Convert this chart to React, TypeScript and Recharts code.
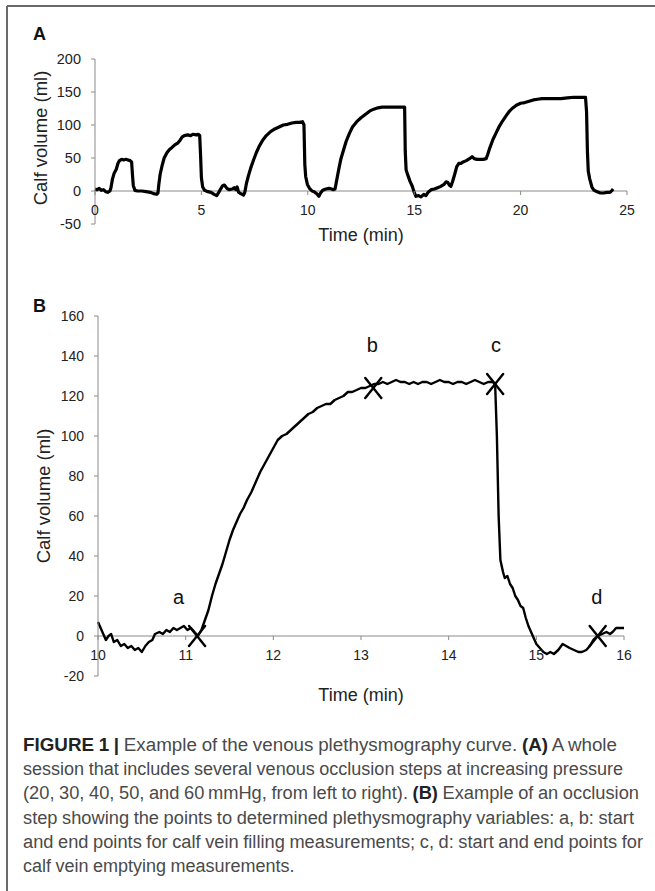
import React from "react";
import { ComposedChart, LineChart, Line, XAxis, YAxis, ReferenceLine, ReferenceDot } from "recharts";

// ---------- Panel A data: whole session ----------
const sessionTime = [
  0.0, 0.1, 0.2, 0.3, 0.4, 0.5, 0.6, 0.7, 0.75, 0.82, 0.9, 1.0, 1.08, 1.15, 1.25, 1.35, 1.45, 1.55, 1.65, 1.72,
  1.76, 1.8, 1.88, 2.0, 2.2, 2.4, 2.6, 2.75, 2.9, 2.96, 3.0, 3.06, 3.15, 3.25, 3.38, 3.5, 3.62, 3.75, 3.9, 4.0,
  4.1, 4.2, 4.35, 4.5, 4.6, 4.75, 4.85, 4.92, 4.96, 5.0, 5.06, 5.15, 5.3, 5.45, 5.6, 5.72, 5.8, 5.9, 6.0, 6.08,
  6.2, 6.3, 6.45, 6.55, 6.62, 6.68, 6.75, 6.85, 6.98, 7.04, 7.12, 7.2, 7.32, 7.45, 7.58, 7.72, 7.88, 8.05, 8.25, 8.45,
  8.65, 8.85, 9.05, 9.25, 9.45, 9.6, 9.75, 9.82, 9.86, 9.9, 9.98, 10.08, 10.2, 10.3, 10.42, 10.52, 10.6, 10.7, 10.85, 11.0,
  11.12, 11.2, 11.28, 11.35, 11.45, 11.55, 11.68, 11.8, 11.95, 12.1, 12.3, 12.5, 12.7, 12.9, 13.1, 13.3, 13.5, 13.8, 14.1, 14.4,
  14.55, 14.58, 14.62, 14.7, 14.8, 14.9, 15.0, 15.08, 15.2, 15.32, 15.45, 15.55, 15.65, 15.8, 15.95, 16.1, 16.25, 16.4, 16.5, 16.58,
  16.65, 16.72, 16.8, 16.9, 17.0, 17.1, 17.2, 17.3, 17.45, 17.6, 17.72, 17.82, 17.95, 18.1, 18.25, 18.38, 18.45, 18.55, 18.7, 18.85,
  19.0, 19.15, 19.3, 19.45, 19.6, 19.8, 20.0, 20.2, 20.4, 20.6, 20.8, 21.0, 21.3, 21.6, 21.9, 22.2, 22.5, 22.8, 23.05, 23.1,
  23.14, 23.18, 23.25, 23.35, 23.45, 23.6, 23.75, 23.9, 24.05, 24.2, 24.3, 24.35,
];
const sessionVolume = [
  3, 2, 4, 1, 2, -1, -2, 0, 5, 18, 27, 33, 42, 46, 48, 47, 48, 47, 46, 44,
  25, 8, 1, 0, 0, -1, -2, -4, -5, -3, 10, 25, 38, 50, 58, 63, 66, 70, 73, 77,
  82, 84, 85, 84, 86, 85, 86, 84, 55, 20, 6, 1, -1, -2, -5, -7, -3, 3, 8, 9,
  4, 2, 3, 5, 2, 6, -2, -4, -6, -2, 12, 22, 35, 47, 58, 68, 77, 84, 90, 94,
  97, 100, 101, 103, 104, 104, 105, 100, 40, 22, 10, 4, 0, -1, -4, -8, -3, 1, 3, 4,
  3, 2, 3, 15, 32, 48, 62, 75, 87, 97, 105, 111, 116, 121, 124, 126, 127, 127, 127, 127,
  127, 60, 32, 24, 15, 8, -2, -8, -7, -9, -5, -7, -2, 2, 3, 5, 7, 10, 14, 13,
  9, 7, 14, 25, 37, 42, 42, 44, 46, 49, 52, 49, 48, 48, 48, 49, 55, 65, 78, 88,
  98, 106, 113, 120, 125, 130, 133, 134, 136, 138, 139, 140, 140, 140, 140, 141, 142, 142, 142, 120,
  60, 30, 18, 6, 1, -1, -3, -3, -2, -2, 1, 3,
];
const sessionXTicks = [0, 5, 10, 15, 20, 25];
const sessionYTicks = [-50, 0, 50, 100, 150, 200];

// ---------- Panel B data: one occlusion step ----------
const stepTime = [
  10.0, 10.03, 10.06, 10.09, 10.12, 10.15, 10.18, 10.22, 10.26, 10.3, 10.34, 10.38, 10.42, 10.46, 10.5, 10.54, 10.58, 10.62, 10.65, 10.7,
  10.74, 10.78, 10.82, 10.86, 10.9, 10.94, 10.98, 11.02, 11.06, 11.1, 11.14, 11.18, 11.22, 11.26, 11.3, 11.34, 11.38, 11.42, 11.46, 11.5,
  11.54, 11.58, 11.62, 11.66, 11.7, 11.75, 11.8, 11.85, 11.9, 11.95, 12.0, 12.05, 12.1, 12.15, 12.2, 12.25, 12.3, 12.35, 12.4, 12.45,
  12.5, 12.55, 12.6, 12.65, 12.7, 12.75, 12.8, 12.85, 12.9, 12.95, 13.0, 13.05, 13.1, 13.15, 13.2, 13.25, 13.3, 13.35, 13.4, 13.45,
  13.5, 13.55, 13.6, 13.65, 13.7, 13.75, 13.8, 13.85, 13.9, 13.95, 14.0, 14.05, 14.1, 14.15, 14.2, 14.25, 14.3, 14.35, 14.4, 14.45,
  14.5, 14.53, 14.55, 14.57, 14.59, 14.62, 14.64, 14.67, 14.7, 14.73, 14.76, 14.79, 14.82, 14.85, 14.88, 14.91, 14.94, 14.97, 15.0, 15.04,
  15.08, 15.12, 15.16, 15.2, 15.25, 15.3, 15.34, 15.38, 15.43, 15.48, 15.52, 15.57, 15.61, 15.65, 15.7, 15.75, 15.8, 15.84, 15.87, 15.91,
  15.95, 16.0,
];
const stepVolume = [
  7, 4, 1, -2, 0, 1, -3, -2, -5, -4, -6, -5, -7, -6, -8, -5, -3, -2, 1, 2,
  1, 3, 2, 4, 3, 4, 5, 3, 4, 2, 0, 3, 8, 13, 20, 26, 31, 36, 42, 48,
  53, 57, 61, 64, 68, 72, 77, 82, 86, 90, 94, 98, 100, 101, 103, 105, 107, 109, 111, 112,
  114, 115, 116, 116, 118, 119, 120, 122, 122, 123, 124, 124, 125, 126, 126, 127, 126, 127, 128, 127,
  127, 126, 127, 126, 127, 127, 126, 127, 128, 127, 127, 126, 127, 127, 126, 127, 128, 127, 126, 127,
  127, 126, 100, 60, 38, 32, 29, 30, 26, 24, 20, 18, 15, 14, 9, 5, 2, -1, -4, -6,
  -8, -9, -8, -9, -7, -4, -5, -6, -7, -8, -8, -7, -5, -2, 0, 1, 2, 1, 2, 4,
  4, 4,
];
const stepXTicks = [10, 11, 12, 13, 14, 15, 16];
const stepYTicks = [-20, 0, 20, 40, 60, 80, 100, 120, 140, 160];

const markerTime = [11.13, 13.14, 14.53, 15.7];
const markerVolume = [0, 124, 126, 0];
const pointLetters = ["a", "b", "c", "d"];
const letterTime = [10.92, 13.13, 14.54, 15.69];
const letterVolume = [16, 142, 142, 16];

const captionLines = [
  [["b", "FIGURE 1 | "], ["n", "Example of the venous plethysmography curve. "], ["b", "(A)"], ["n", " A whole"]],
  [["n", "session that includes several venous occlusion steps at increasing pressure"]],
  [["n", "(20, 30, 40, 50, and 60\u2009mmHg, from left to right). "], ["b", "(B)"], ["n", " Example of an occlusion"]],
  [["n", "step showing the points to determined plethysmography variables: a, b: start"]],
  [["n", "and end points for calf vein filling measurements; c, d: start and end points for"]],
  [["n", "calf vein emptying measurements."]],
];
const captionWidths = [594, 600, 616, 611, 620, 0];

const sessionData = sessionTime.map((t, i) => ({ t, v: sessionVolume[i] }));
const stepData = stepTime.map((t, i) => ({ t, v: stepVolume[i] }));

// ---------- layout ----------
const W = 655;
const AXIS_H = 30;
const A_H = 260;
const A_MARGIN = { top: 59, right: 28, bottom: 6, left: 0 };
const A_DOMAIN: [number, number] = [-50, 200];
const B_TOP = 280;
const B_H = 440;
const B_MARGIN = { top: 36, right: 31, bottom: 14, left: 0 };
const B_DOMAIN: [number, number] = [-20, 160];

const AXIS_COLOR = "#8a8a8a";
const TEXT_COLOR = "#222";
const FONT = "'Liberation Sans', Arial, Helvetica, sans-serif";

function zeroShift(h: number, margin: { top: number; bottom: number }, domain: [number, number]) {
  const plotH = h - margin.top - margin.bottom - AXIS_H;
  return (plotH * (0 - domain[0])) / (domain[1] - domain[0]);
}

function makeXTick(shift: number) {
  return (props: any) => {
    const { x, y, payload } = props;
    const y0 = y - shift;
    return (
      <g>
        <line x1={x} x2={x} y1={y0} y2={y0 + 4} stroke={AXIS_COLOR} strokeWidth={1} />
        <text x={x} y={y0 + 24} textAnchor="middle" fill={TEXT_COLOR} fontSize={14} fontFamily={FONT}>
          {payload.value}
        </text>
      </g>
    );
  };
}

const XMark = (props: any) => {
  const { cx, cy } = props;
  if (cx == null || cy == null) return null;
  return (
    <g stroke="#000" strokeWidth={2.4} strokeLinecap="round">
      <line x1={cx - 8} y1={cy - 10} x2={cx + 8} y2={cy + 10} />
      <line x1={cx + 8} y1={cy - 10} x2={cx - 8} y2={cy + 10} />
    </g>
  );
};

const makeLetter = (letter: string) => (props: any) => {
  const { cx, cy } = props;
  if (cx == null || cy == null) return null;
  return (
    <text x={cx} y={cy} textAnchor="middle" fontSize={20} fill="#111" fontFamily={FONT}>
      {letter}
    </text>
  );
};

export default function App() {
  const aShift = zeroShift(A_H, A_MARGIN, A_DOMAIN);
  const bShift = zeroShift(B_H, B_MARGIN, B_DOMAIN);
  return (
    <div
      style={{
        position: "absolute",
        left: 0,
        top: 0,
        width: W,
        height: 891,
        background: "#fff",
        fontFamily: FONT,
        overflow: "hidden",
      }}
    >
      <div style={{ position: "absolute", left: 0, top: 0 }}>
        <LineChart width={W} height={A_H} data={sessionData} margin={A_MARGIN}>
          <XAxis
            dataKey="t"
            type="number"
            domain={[0, 25]}
            ticks={sessionXTicks}
            interval={0}
            height={AXIS_H}
            axisLine={false}
            tickLine={false}
            tickSize={0}
            tickMargin={0}
            tick={makeXTick(aShift)}
          />
          <YAxis
            type="number"
            domain={A_DOMAIN}
            ticks={sessionYTicks}
            interval={0}
            width={95}
            axisLine={{ stroke: AXIS_COLOR }}
            tickLine={{ stroke: AXIS_COLOR }}
            tickSize={4}
            tickMargin={10}
            tick={{ fill: TEXT_COLOR, fontSize: 14.5 }}
          />
          <ReferenceLine y={0} stroke={AXIS_COLOR} strokeWidth={1} />
          <Line
            dataKey="v"
            type="linear"
            stroke="#000"
            strokeWidth={3.2}
            dot={false}
            strokeLinejoin="round"
            isAnimationActive={false}
          />
        </LineChart>
      </div>

      <div style={{ position: "absolute", left: 0, top: B_TOP }}>
        <ComposedChart width={W} height={B_H} data={stepData} margin={B_MARGIN}>
          <XAxis
            dataKey="t"
            type="number"
            domain={[10, 16]}
            ticks={stepXTicks}
            interval={0}
            height={AXIS_H}
            axisLine={false}
            tickLine={false}
            tickSize={0}
            tickMargin={0}
            tick={makeXTick(bShift)}
          />
          <YAxis
            type="number"
            domain={B_DOMAIN}
            ticks={stepYTicks}
            interval={0}
            width={98}
            axisLine={{ stroke: AXIS_COLOR }}
            tickLine={{ stroke: AXIS_COLOR }}
            tickSize={4}
            tickMargin={10}
            tick={{ fill: TEXT_COLOR, fontSize: 14 }}
          />
          <ReferenceLine y={0} stroke={AXIS_COLOR} strokeWidth={1} />
          <Line
            dataKey="v"
            type="linear"
            stroke="#000"
            strokeWidth={2.4}
            dot={false}
            strokeLinejoin="round"
            isAnimationActive={false}
          />
          {markerTime.map((t, i) => (
            <ReferenceDot key={"m" + i} x={t} y={markerVolume[i]} r={10} shape={XMark} />
          ))}
          {pointLetters.map((l, i) => (
            <ReferenceDot key={"l" + i} x={letterTime[i]} y={letterVolume[i]} r={1} shape={makeLetter(l)} />
          ))}
        </ComposedChart>
      </div>

      <svg width={W} height={891} style={{ position: "absolute", left: 0, top: 0, pointerEvents: "none" }}>
        <line x1={7} y1={6} x2={W} y2={6} stroke="#6a6a6a" strokeWidth={2} />
        <line x1={7} y1={6} x2={7} y2={891} stroke="#6a6a6a" strokeWidth={2} />
        <text x={33} y={40} fontSize={18} fontWeight="bold" fill="#111" fontFamily={FONT}>A</text>
        <text x={33} y={312} fontSize={18} fontWeight="bold" fill="#111" fontFamily={FONT}>B</text>
        <text
          x={40}
          y={138}
          transform="rotate(-90, 40, 138)"
          textAnchor="middle"
          dominantBaseline="central"
          fontSize={18.5}
          fill={TEXT_COLOR}
          fontFamily={FONT}
        >
          Calf volume (ml)
        </text>
        <text x={361} y={241} textAnchor="middle" fontSize={18} fill={TEXT_COLOR} fontFamily={FONT}>
          Time (min)
        </text>
        <text
          x={43}
          y={496}
          transform="rotate(-90, 43, 496)"
          textAnchor="middle"
          dominantBaseline="central"
          fontSize={18.5}
          fill={TEXT_COLOR}
          fontFamily={FONT}
        >
          Calf volume (ml)
        </text>
        <text x={361} y={701} textAnchor="middle" fontSize={18} fill={TEXT_COLOR} fontFamily={FONT}>
          Time (min)
        </text>
        {captionLines.map((parts, i) => (
          <text
            key={i}
            x={23}
            y={751 + i * 24.2}
            fontSize={18}
            wordSpacing={-0.5}
            fill="#4a4a4a"
            fontFamily={FONT}
            {...(captionWidths[i] > 0 ? { textLength: captionWidths[i], lengthAdjust: "spacingAndGlyphs" } : {})}
          >
            {parts.map(([k, s], j) => (
              <tspan key={j} fontWeight={k === "b" ? "bold" : "normal"} fill={k === "b" ? "#222" : "#4a4a4a"}>
                {s}
              </tspan>
            ))}
          </text>
        ))}
      </svg>
    </div>
  );
}
